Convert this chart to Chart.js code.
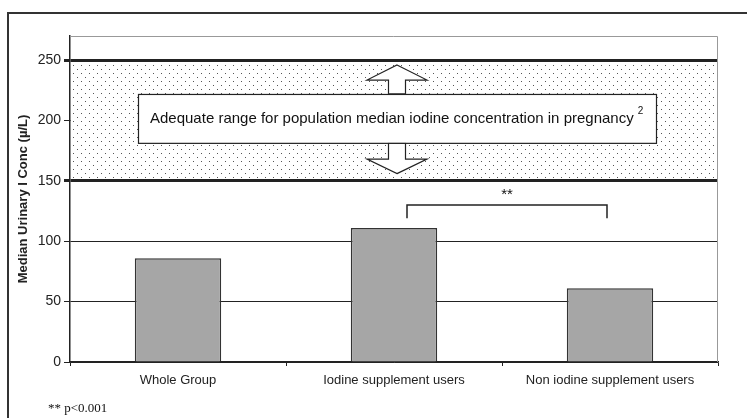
<!DOCTYPE html>
<html>
<head>
<meta charset="utf-8">
<script src="https://cdn.jsdelivr.net/npm/chart.js@4"></script>
<style>
  html, body { margin: 0; padding: 0; background: #fff; }
  #wrap { width: 747px; height: 418px; position: relative; }
</style>
</head>
<body>
<div id="wrap"><canvas id="myChart" width="747" height="418"></canvas></div>
<script>
// Chart data
const categories = ["Whole Group", "Iodine supplement users", "Non iodine supplement users"];
const medianIodine = [86, 111, 61];
const yTicks = [0, 50, 100, 150, 200, 250];
const adequateRange = [150, 250];
const yTitle = "Median Urinary I Conc (\u00b5/L)";
const rangeLabel = "Adequate range for population median iodine concentration in pregnancy";
const footnote = "** p<0.001";

const FONT = "'Liberation Sans', Arial, sans-serif";

// dotted fill pattern for the adequate range band
function makeDots() {
  const c = document.createElement("canvas");
  c.width = 8;
  c.height = 8;
  const g = c.getContext("2d");
  g.fillStyle = "#fff";
  g.fillRect(0, 0, 8, 8);
  g.fillStyle = "#555";
  g.fillRect(1, 1, 1, 1);
  g.fillRect(5, 5, 1, 1);
  return c;
}

const decorations = {
  id: "decorations",
  beforeDatasetsDraw(chart) {
    const ctx = chart.ctx;
    const y = chart.scales.y;
    const area = chart.chartArea;
    const top = y.getPixelForValue(adequateRange[1]);
    const bottom = y.getPixelForValue(adequateRange[0]);
    ctx.save();
    ctx.fillStyle = ctx.createPattern(makeDots(), "repeat");
    ctx.fillRect(area.left + 1, top + 2, area.right - area.left - 2, bottom - top - 4);
    ctx.restore();
  },
  afterDatasetsDraw(chart) {
    const ctx = chart.ctx;
    const x = chart.scales.x;
    const y = chart.scales.y;
    const area = chart.chartArea;

    // plot frame (top + right, grey)
    ctx.save();
    ctx.strokeStyle = "#999";
    ctx.lineWidth = 1;
    ctx.beginPath();
    ctx.moveTo(area.left, area.top + 0.5);
    ctx.lineTo(area.right - 0.5, area.top + 0.5);
    ctx.lineTo(area.right - 0.5, area.bottom);
    ctx.stroke();

    // double arrow
    const cx = x.getPixelForValue(1) + 3;
    const boxTop = y.getPixelForValue(222);
    const boxBottom = y.getPixelForValue(181.5);
    const tipTop = y.getPixelForValue(246);
    const headTop = y.getPixelForValue(233.5);
    const headBottom = y.getPixelForValue(168);
    const tipBottom = y.getPixelForValue(156);
    const hw = 30, sw = 8.5;
    ctx.fillStyle = "#fff";
    ctx.strokeStyle = "#222";
    ctx.lineWidth = 1.2;
    ctx.beginPath();
    ctx.moveTo(cx, tipTop);
    ctx.lineTo(cx + hw, headTop);
    ctx.lineTo(cx + sw, headTop);
    ctx.lineTo(cx + sw, boxTop);
    ctx.lineTo(cx - sw, boxTop);
    ctx.lineTo(cx - sw, headTop);
    ctx.lineTo(cx - hw, headTop);
    ctx.closePath();
    ctx.fill();
    ctx.stroke();
    ctx.beginPath();
    ctx.moveTo(cx, tipBottom);
    ctx.lineTo(cx + hw, headBottom);
    ctx.lineTo(cx + sw, headBottom);
    ctx.lineTo(cx + sw, boxBottom);
    ctx.lineTo(cx - sw, boxBottom);
    ctx.lineTo(cx - sw, headBottom);
    ctx.lineTo(cx - hw, headBottom);
    ctx.closePath();
    ctx.fill();
    ctx.stroke();

    // label box
    const bl = area.left + 68, br = area.right - 62;
    ctx.fillRect(bl, boxTop, br - bl, boxBottom - boxTop);
    ctx.strokeRect(bl + 0.5, boxTop + 0.5, br - bl, boxBottom - boxTop);
    ctx.fillStyle = "#111";
    ctx.font = "15px " + FONT;
    ctx.textBaseline = "middle";
    ctx.textAlign = "left";
    const ty = (boxTop + boxBottom) / 2;
    ctx.fillText(rangeLabel, bl + 12, ty);
    const w = ctx.measureText(rangeLabel).width;
    ctx.font = "10px " + FONT;
    ctx.fillText("2", bl + 12 + w + 4, ty - 7);

    // significance bracket
    const x1 = x.getPixelForValue(1) + 13;
    const x2 = x.getPixelForValue(2) - 3;
    const yb = y.getPixelForValue(130);
    const ye = y.getPixelForValue(119);
    ctx.strokeStyle = "#222";
    ctx.lineWidth = 1.5;
    ctx.beginPath();
    ctx.moveTo(x1, ye);
    ctx.lineTo(x1, yb);
    ctx.lineTo(x2, yb);
    ctx.lineTo(x2, ye);
    ctx.stroke();
    ctx.font = "15px " + FONT;
    ctx.textAlign = "center";
    ctx.fillText("**", (x1 + x2) / 2, yb - 10);

    // footnote
    ctx.font = "13px 'Liberation Serif', 'Times New Roman', serif";
    ctx.textAlign = "left";
    ctx.textBaseline = "alphabetic";
    ctx.fillText(footnote, 48, 412);

    // outer figure border
    ctx.strokeStyle = "#333";
    ctx.lineWidth = 2;
    ctx.beginPath();
    ctx.moveTo(8, 418);
    ctx.lineTo(8, 13);
    ctx.lineTo(747, 13);
    ctx.stroke();
    ctx.restore();
  }
};

const ctx = document.querySelector("#myChart").getContext("2d");
const myChart = new Chart(ctx, {
  type: "bar",
  data: {
    labels: categories,
    datasets: [
      {
        data: medianIodine,
        backgroundColor: "#a6a6a6",
        borderColor: "#333",
        borderWidth: 1.5,
        barPercentage: 0.4,
        categoryPercentage: 1.0,
      },
    ],
  },
  plugins: [decorations],
  options: {
    responsive: false,
    animation: false,
    layout: {
      padding: { left: 0, top: 36, right: 29, bottom: 0 },
    },
    plugins: {
      legend: { display: false },
      tooltip: { enabled: false },
    },
    scales: {
      x: {
        afterFit: (scale) => { scale.height = 56; },
        grid: {
          drawOnChartArea: false,
          color: "#222",
          tickLength: 4,
        },
        border: { color: "#222", width: 1.5 },
        ticks: {
          color: "#222",
          padding: 7,
          font: { family: FONT, size: 13 },
        },
      },
      y: {
        min: 0,
        max: 270,
        afterFit: (scale) => { scale.width = 70; },
        afterBuildTicks: (scale) => {
          scale.ticks = yTicks.map((v) => ({ value: v }));
        },
        grid: {
          color: "#222",
          tickLength: 6,
          lineWidth: (c) => (c.tick && adequateRange.includes(c.tick.value) ? 3 : 1),
        },
        border: { color: "#222", width: 1.5 },
        ticks: {
          color: "#222",
          padding: 3,
          font: { family: FONT, size: 14 },
        },
        title: {
          display: true,
          text: yTitle,
          color: "#222",
          padding: { top: 16, bottom: 0 },
          font: { family: FONT, size: 13, weight: "bold" },
        },
      },
    },
  },
});
</script>
</body>
</html>
